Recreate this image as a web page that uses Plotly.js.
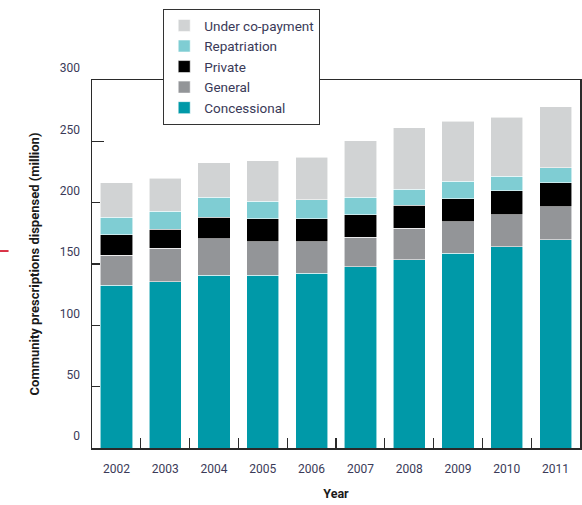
<!DOCTYPE html>
<html>
<head>
<meta charset="utf-8">
<script src="https://cdn.plot.ly/plotly-3.0.1.min.js"></script>
<style>html,body{margin:0;padding:0;background:#fff;}#chart{width:582px;height:505px;}</style>
</head>
<body>
<div id="chart"></div>
<script>
const years = ['2002','2003','2004','2005','2006','2007','2008','2009','2010','2011'];
const concessional = [132.6,135.6,141.0,141.0,142.4,147.7,153.3,158.7,163.9,169.6];
const general      = [24.7,27.2,29.4,27.2,25.8,24.0,25.8,25.8,26.3,27.1];
const privateRx    = [16.6,15.5,17.7,18.5,18.7,18.5,18.7,18.8,19.6,19.6];
const repatriation = [14.2,14.9,16.2,14.4,15.3,14.1,13.3,14.1,11.9,12.2];
const underCopay   = [28.2,26.6,28.3,32.9,34.8,46.0,49.8,48.8,47.8,49.8];
const yTicks = [0,50,100,150,200,250,300];

const seriesNames = ['Concessional','General','Private','Repatriation','Under co-payment'];
const seriesData = [concessional, general, privateRx, repatriation, underCopay];
const seriesColors = ['#0099a8','#939598','#000000','#7fcdd3','#d1d3d4'];

const traces = seriesNames.map((n,i)=>({
  type:'bar', name:n, x:years, y:seriesData[i],
  marker:{color:seriesColors[i], line:{color:'rgba(255,255,255,0.7)', width:0.8}},
  hoverinfo:'x+y+name'
}));

const txtColor = '#3a3a58';
const layout = {
  width:582, height:505,
  margin:{l:92, r:2, t:80, b:57},
  paper_bgcolor:'#fff', plot_bgcolor:'#fff',
  barmode:'stack', bargap:0.34,
  font:{family:'Roboto, "Open Sans", sans-serif', size:12, color:txtColor},
  xaxis:{
    type:'category', range:[-0.5,9.5],
    showline:true, linecolor:'#2a2a2a', linewidth:1.5, mirror:true,
    ticks:'inside', tickson:'boundaries', ticklen:10, tickcolor:'#2a2a2a', tickwidth:1.3,
    tickfont:{size:12, color:txtColor}, ticklabelstandoff:9,
    title:{text:'<b>Year</b>', font:{size:12.5, color:'#1a1a1a'}, standoff:14},
    showgrid:false, zeroline:false, fixedrange:true, layer:'below traces'
  },
  yaxis:{
    range:[0,300], tickvals:yTicks, ticktext:yTicks.map(String),
    showline:true, linecolor:'#2a2a2a', linewidth:1.5, mirror:true,
    ticks:'inside', ticklen:12, tickcolor:'#2a2a2a', tickwidth:1.3,
    tickfont:{size:12, color:txtColor}, ticklabelshift:-12, ticklabelstandoff:8,
    title:{text:'<b>Community prescriptions dispensed (million)</b>', font:{size:13, color:'#1a1a1a'}, standoff:17},
    showgrid:false, zeroline:false, fixedrange:true, layer:'below traces'
  },
  legend:{
    x:0.1455, y:1.193, xanchor:'left', yanchor:'top',
    traceorder:'reversed', bgcolor:'#fff', bordercolor:'#333', borderwidth:1.2,
    font:{size:13.5, color:txtColor}, itemwidth:30, tracegroupgap:0
  },
  shapes:[{type:'line', xref:'paper', yref:'paper', x0:-0.1885, x1:-0.171, y0:0.5353, y1:0.5353,
           line:{color:'#d0021b', width:1.6}}],
  showlegend:true
};
Plotly.newPlot('chart', traces, layout, {displayModeBar:false, staticPlot:true});
</script>
</body>
</html>
